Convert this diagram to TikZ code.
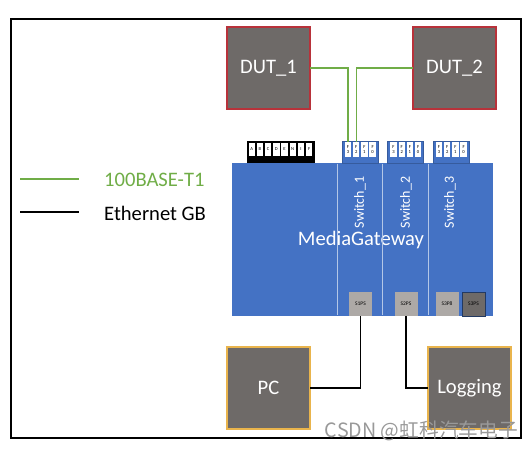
\documentclass[tikz,border=0pt]{standalone}
\usepackage{fontspec}
\setmainfont{Carlito}
\newfontfamily\cjkfont{Noto Sans CJK SC}
\usepackage{tikz}
\usetikzlibrary{positioning}
\definecolor{boxgray}{HTML}{6E6A68}
\definecolor{gwblue}{HTML}{4472C4}
\definecolor{lan}{HTML}{70AD47}
\definecolor{portgray}{HTML}{ADA9A6}
\definecolor{dutedge}{HTML}{B8323A}
\definecolor{hostedge}{HTML}{E9B44C}

\begin{document}
\begin{tikzpicture}[
  x=1pt, y=-1pt,
  font=\fontsize{20.6}{22}\selectfont,
  dut/.style={draw=dutedge, line width=1.2pt, fill=boxgray, text=white, minimum width=83pt, minimum height=82pt, inner sep=0pt, outer sep=0pt},
  host/.style={draw=hostedge, line width=1.2pt, fill=boxgray, text=white, minimum width=83pt, minimum height=82pt, inner sep=0pt, outer sep=0pt},
  swlabel/.style={rotate=90, text=white, font=\fontsize{14}{16}\selectfont, inner sep=0pt},
  portblock/.style={minimum width=36pt, minimum height=22pt, inner sep=0pt, outer sep=0pt, fill=gwblue, draw=gwblue!80!black, line width=0.3pt},
  pin/.style={fill=white, minimum width=6.4pt, minimum height=15pt, inner sep=0pt, outer sep=0pt, align=center, font=\fontsize{4.6}{4.8}\selectfont},
  smallport/.style={fill=portgray, minimum width=23pt, minimum height=24pt, inner sep=0pt, outer sep=0pt, font=\fontsize{5.5}{6}\selectfont},
  lanline/.style={draw=lan, line width=1.4pt},
  ethline/.style={draw=black, line width=1.5pt}
]
\useasboundingbox (0,0) rectangle (531,451);
\node[draw=black, line width=1.4pt, minimum width=510pt, minimum height=419pt, inner sep=0pt] (frame) at (266,228.5) {};

% gateway
\node[fill=gwblue, minimum width=261pt, minimum height=153pt, inner sep=0pt] (gw) at (362,239.5) {};
\node[text=white] (gwname) at (361,240) {MediaGateway};
\node (sw1top) at (337,163) [inner sep=0pt] {};
\node (sw1bot) at (337,316) [inner sep=0pt] {};
\node (sw2top) at (382,163) [inner sep=0pt] {};
\node (sw2bot) at (382,316) [inner sep=0pt] {};
\node (sw3top) at (428,163) [inner sep=0pt] {};
\node (sw3bot) at (428,316) [inner sep=0pt] {};
\draw[white!60!gwblue, line width=0.5pt] (sw1top) -- (sw1bot);
\draw[white!60!gwblue, line width=0.5pt] (sw2top) -- (sw2bot);
\draw[white!60!gwblue, line width=0.5pt] (sw3top) -- (sw3bot);
\node[swlabel] (sw1) at (360,202.5) {Switch\_1};
\node[swlabel] (sw2) at (406,202.5) {Switch\_2};
\node[swlabel] (sw3) at (450,202.5) {Switch\_3};

% connector blocks
\node[fill=black, minimum width=68pt, minimum height=22pt, inner sep=0pt] (blk0) at (281,152) {};
\foreach \l [count=\i] in {A,B,C,D,E,N,I,F}
  \node[pin, minimum height=13pt] (a\i) at (247.5+8.2*\i-4,149.5) {\l};
\node[portblock] (blk1) at (360,152) {};
\node[portblock] (blk2) at (405.5,152) {};
\node[portblock] (blk3) at (451,152) {};
\foreach \b/\x in {1/348,2/393.5,3/439}
  \foreach \n [count=\i] in {3,2,1,0}
    \node[pin] (p\b\n) at (\x+8.2*\i-8.2,149.5) {F\\[1pt]\n};

% end devices
\node[dut] (dut1) at (268.5,68) {DUT\_1};
\node[dut, right=103pt of dut1] (dut2) {DUT\_2};
\node[host] (pc) at (268.5,388) {PC};
\node[host, right=118pt of pc] (logging) {Logging};

% ports on the lower edge
\node[smallport] (s1ps) at (360.5,304) {S1PS};
\node[smallport] (s2ps) at (406,304) {S2PS};
\node[smallport] (s3p8) at (447,304) {S3P8};
\node[smallport, fill=boxgray, draw=gwblue!50!black, line width=0.4pt] (s3ps) at (473.5,304) {S3PS};

% links
\draw[lanline] (dut1.east) -| (p13.north);
\draw[lanline] (dut2.west) -| (p12.north);
\draw[ethline] (pc.east) -| (s1ps.south);
\draw[ethline] (logging.west) -| (s2ps.south);

% legend
\coordinate (lana) at (20,179);
\coordinate (lanb) at (79,179);
\coordinate (etha) at (20,212);
\coordinate (ethb) at (79,212);
\draw[lan, line width=1.1pt] (lana) -- (lanb);
\draw[black, line width=1.1pt] (etha) -- (ethb);
\node[anchor=west, text=lan, inner sep=0pt] (lanlabel) at (104,180) {100BASE-T1};
\node[anchor=west, inner sep=0pt] (ethlabel) at (104,213) {Ethernet GB};

\node[anchor=east, inner sep=0pt, text=black!40, font=\cjkfont\fontsize{19.7}{21}\selectfont] (mark) at (518,431) {CSDN @虹科汽车电子};
\end{tikzpicture}
\end{document}
